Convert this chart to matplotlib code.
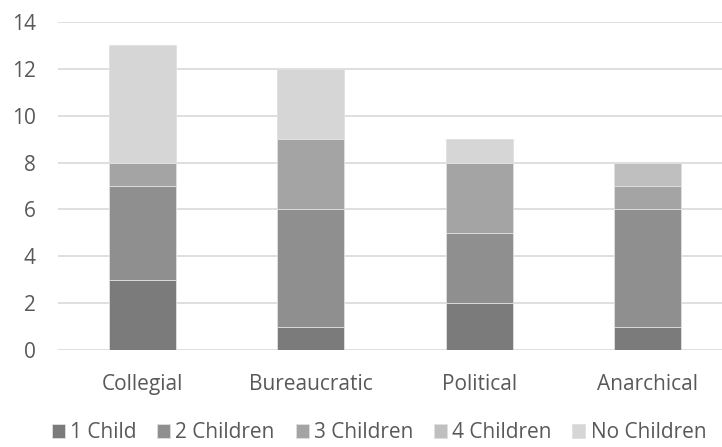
import matplotlib
matplotlib.use("Agg")
import matplotlib.pyplot as plt
import numpy as np

categories = ["Collegial", "Bureaucratic", "Political", "Anarchical"]
series_names = ["1 Child", "2 Children", "3 Children", "4 Children", "No Children"]
one_child = [3, 1, 2, 1]
two_children = [4, 5, 3, 5]
three_children = [1, 3, 3, 1]
four_children = [0, 0, 0, 1]
no_children = [5, 3, 1, 0]
colors = ["#7b7b7b", "#8f8f8f", "#a4a4a4", "#bfbfbf", "#d6d6d6"]
yticks = [0, 2, 4, 6, 8, 10, 12, 14]

plt.rcParams["font.family"] = ["Open Sans", "DejaVu Sans"]
text_color = "#595959"

fig = plt.figure(figsize=(7.22, 4.47), dpi=100)
ax = fig.add_axes([58 / 722, 97 / 447, 674 / 722, 328 / 447])

x = np.arange(len(categories))
bottom = np.zeros(len(categories))
series = [one_child, two_children, three_children, four_children, no_children]
for name, vals, col in zip(series_names, series, colors):
    vals = np.array(vals, dtype=float)
    ax.bar(x, vals, width=0.40, bottom=bottom, color=col, label=name,
           edgecolor="#e0e0e0", linewidth=0.6, zorder=3)
    bottom += vals

ax.set_xlim(-0.5, 3.5)
ax.set_ylim(0, 14)
ax.set_yticks(yticks)
ax.set_xticks(x)
ax.set_xticklabels(categories)
ax.yaxis.grid(True, color="#d9d9d9", linewidth=1.2, zorder=0)
ax.set_axisbelow(True)
for s in ax.spines.values():
    s.set_visible(False)
ax.tick_params(axis="both", length=0, labelsize=15, colors=text_color)
ax.tick_params(axis="y", pad=16)
ax.tick_params(axis="x", pad=17)

handles, labels = ax.get_legend_handles_labels()
fig.legend(handles, labels, loc="center", bbox_to_anchor=(0.525, 14 / 447), ncol=5,
           frameon=False, fontsize=15, labelcolor=text_color,
           handlelength=0.62, handleheight=0.62, handletextpad=0.25, columnspacing=1.0)

fig.savefig("out.png", dpi=100)
